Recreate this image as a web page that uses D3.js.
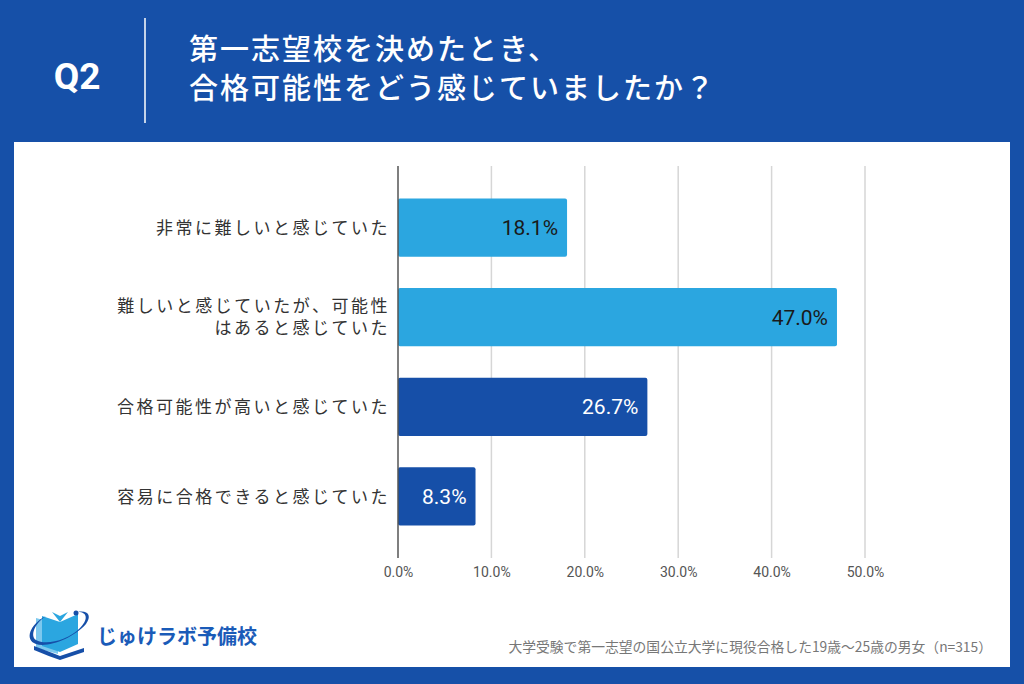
<!DOCTYPE html>
<html>
<head>
<meta charset="utf-8">
<script src="https://cdn.jsdelivr.net/npm/d3@7"></script>
<style>
  html, body { margin: 0; padding: 0; background: #1650A8; }
  svg { display: block; }
</style>
</head>
<body>
<svg id="chart" width="1024" height="684"></svg>
<script>
// ---- data ----
const categories = [
  "非常に難しいと感じていた",
  "難しいと感じていたが、可能性\nはあると感じていた",
  "合格可能性が高いと感じていた",
  "容易に合格できると感じていた"
];
const values = [18.1, 47.0, 26.7, 8.3];
const groups = ["hard", "hard", "easy", "easy"];
const tickValues = [0, 10, 20, 30, 40, 50];
const questionLabel = "Q2";
const titleLines = ["第一志望校を決めたとき、", "合格可能性をどう感じていましたか？"];
const noteText = "大学受験で第一志望の国公立大学に現役合格した19歳～25歳の男女（n=315）";
const brandText = "じゅけラボ予備校";

// ---- styles ----
const BG = "#1650A8";
const LIGHT = "#2BA6E0";
const DARK = "#164FA8";
const JP = "'Noto Sans CJK JP', 'Noto Sans', sans-serif";
const NUM = "Roboto, 'Noto Sans', sans-serif";

const svg = d3.select("#chart");

// background
svg.append("rect").attr("width", 1024).attr("height", 684).attr("fill", BG);
// white panel
svg.append("rect").attr("x", 14).attr("y", 142).attr("width", 996).attr("height", 525).attr("fill", "#fff");

// header
svg.append("text").attr("x", 77).attr("y", 89).attr("text-anchor", "middle")
  .attr("fill", "#fff").attr("font-family", NUM).attr("font-weight", 700)
  .attr("font-size", 37).text(questionLabel);
svg.append("line").attr("x1", 145).attr("x2", 145).attr("y1", 18).attr("y2", 123)
  .attr("stroke", "#fff").attr("stroke-width", 1.5);
svg.selectAll("text.title").data(titleLines).join("text").attr("class", "title")
  .attr("x", 189).attr("y", (d, i) => 60 + i * 39)
  .attr("fill", "#fff").attr("font-family", JP).attr("font-weight", 500)
  .attr("font-size", 29).attr("letter-spacing", 2).text(d => d);

// scales
const x = d3.scaleLinear().domain([0, 50]).range([398, 865]);
const y = d3.scaleBand().domain(categories).range([166, 558])
  .paddingInner(0.35).paddingOuter(0.3625);

// gridlines
svg.append("g").selectAll("line").data(tickValues.slice(1)).join("line")
  .attr("x1", d => x(d)).attr("x2", d => x(d))
  .attr("y1", 166).attr("y2", 558)
  .attr("stroke", "#d6d6d6").attr("stroke-width", 1.5);

// x axis labels
const xAxis = d3.axisBottom(x).tickValues(tickValues).tickSize(0).tickPadding(0)
  .tickFormat(d => d.toFixed(1) + "%");
const gx = svg.append("g").attr("transform", "translate(0,567)").call(xAxis);
gx.select(".domain").remove();
gx.selectAll("text").attr("font-family", NUM).attr("font-size", 14).attr("fill", "#555");

// bars
const data = categories.map((c, i) => ({ c, v: values[i], g: groups[i] }));
svg.append("g").selectAll("rect").data(data).join("rect")
  .attr("x", x(0)).attr("y", d => y(d.c))
  .attr("width", d => x(d.v) - x(0)).attr("height", y.bandwidth())
  .attr("rx", 2)
  .attr("fill", d => d.g === "hard" ? LIGHT : DARK);

// value labels
svg.append("g").selectAll("text").data(data).join("text")
  .attr("x", d => x(d.v) - 9).attr("y", d => y(d.c) + y.bandwidth() / 2)
  .attr("dy", "0.36em").attr("text-anchor", "end")
  .attr("font-family", NUM).attr("font-size", 21)
  .attr("fill", d => d.g === "hard" ? "#1a1a1a" : "#fff")
  .text(d => d.v.toFixed(1) + "%");

// axis line
svg.append("line").attr("x1", x(0)).attr("x2", x(0)).attr("y1", 166).attr("y2", 558)
  .attr("stroke", "#555").attr("stroke-width", 1.5);

// category labels
const lab = svg.append("g").selectAll("text").data(data).join("text")
  .attr("text-anchor", "end").attr("font-family", JP).attr("font-size", 17)
  .attr("letter-spacing", 2.5).attr("fill", "#333")
  .attr("transform", d => `translate(390,${y(d.c) + y.bandwidth() / 2})`);
lab.each(function(d) {
  const lines = d.c.split("\n");
  const t = d3.select(this);
  lines.forEach((ln, i) => {
    t.append("tspan").attr("x", 0)
      .attr("y", (i - (lines.length - 1) / 2) * 22)
      .attr("dy", "0.36em").text(ln);
  });
});

// footnote
svg.append("text").attr("x", 992).attr("y", 652).attr("text-anchor", "end")
  .attr("font-family", JP).attr("font-size", 13.8).attr("fill", "#777")
  .text(noteText);

// logo
const logo = svg.append("g").attr("transform", "translate(28,610)");
logo.append("path").attr("d", "M8 8 L8 38 L30 44 L30 14 Z").attr("fill", "#7cc8ee");
logo.append("path").attr("d", "M14 6 L14 36 L32 42 L32 12 Z").attr("fill", LIGHT);
logo.append("path").attr("d", "M50 4 L50 34 L32 42 L32 12 Z").attr("fill", LIGHT);
logo.append("path").attr("d", "M32 12 L24 2 L32 6 L40 2 Z").attr("fill", LIGHT);
logo.append("path").attr("d", "M6 36 Q22 42 32 46 Q44 42 56 38 L56 42 Q44 46 32 50 Q20 46 6 40 Z").attr("fill", DARK);
logo.append("path")
  .attr("d", "M18 6 C2 14 -4 30 8 34 C20 38 46 28 58 14 C64 6 60 0 50 2 C60 2 60 10 52 18 C40 30 18 36 8 30 C2 26 6 14 18 6 Z")
  .attr("fill", DARK);
logo.append("circle").attr("cx", 48).attr("cy", 3).attr("r", 2.5).attr("fill", DARK);
svg.append("text").attr("x", 97).attr("y", 644)
  .attr("font-family", JP).attr("font-weight", 700).attr("font-size", 20)
  .attr("fill", "#1A5BB8").text(brandText);
</script>
</body>
</html>
